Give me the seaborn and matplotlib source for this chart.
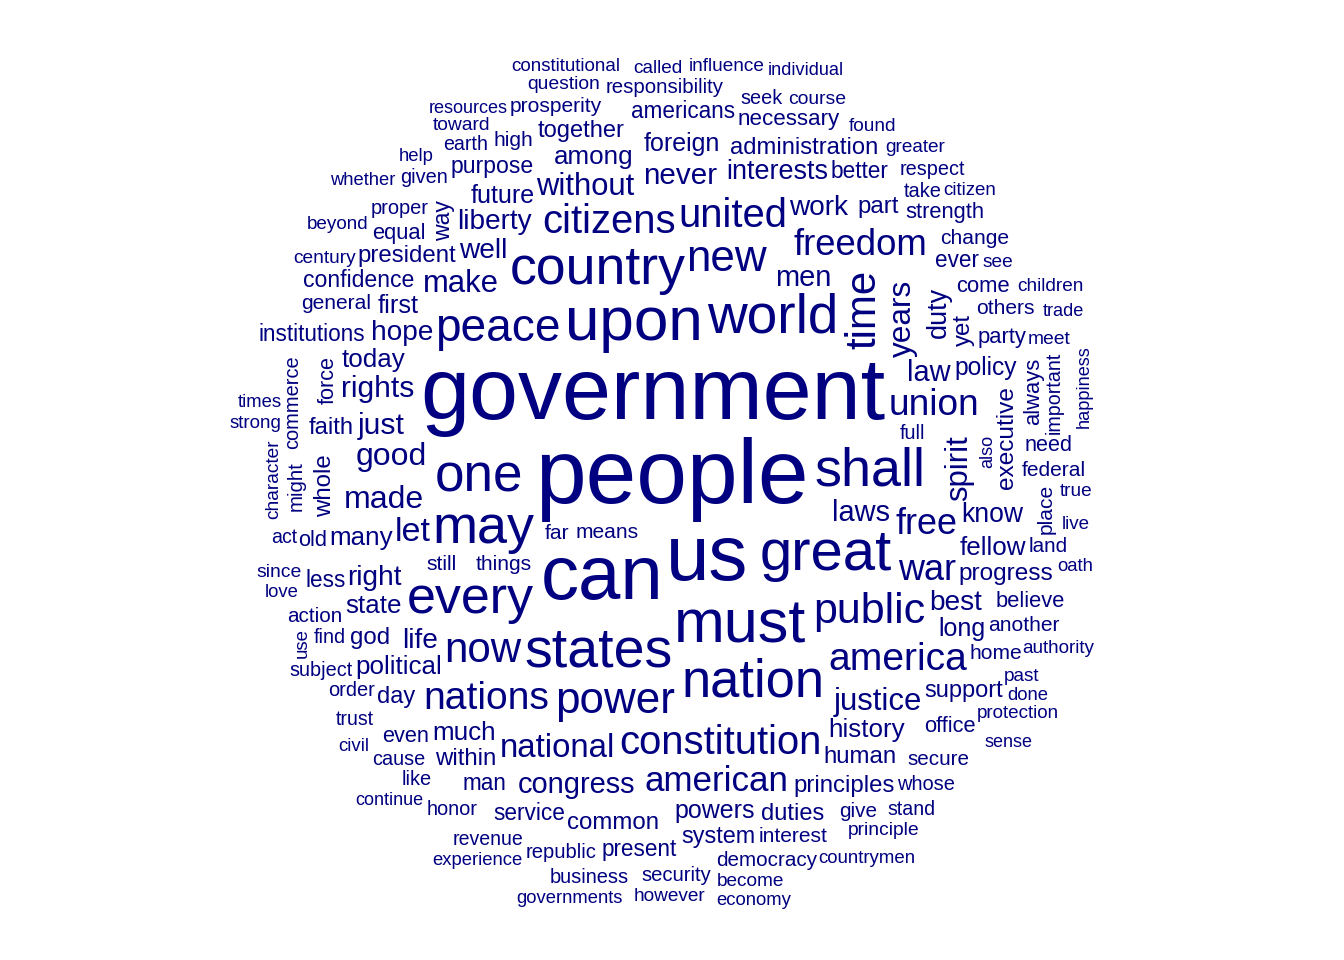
import numpy as np
import matplotlib
matplotlib.use("Agg")
import matplotlib.pyplot as plt
import seaborn as sns

# word frequencies
words = [
    "people", "government", "us", "can", "upon", "must", "great", "states", "world",
    "may", "shall", "country", "one", "nation", "every", "peace", "new", "power",
    "public", "now", "time", "citizens", "constitution", "united", "america", "nations",
    "union", "freedom", "free", "war", "american", "let", "national", "made", "good",
    "years", "make", "spirit", "justice", "without", "just", "rights", "never", "men",
    "congress", "laws", "law", "life", "well", "hope", "best", "liberty", "work", "right",
    "duty", "interests", "know", "history", "many", "among", "today", "political", "state",
    "fellow", "much", "first", "long", "future", "powers", "foreign", "policy", "progress",
    "executive", "human", "common", "president", "principles", "within", "god", "part",
    "whole", "yet", "administration", "faith", "together", "support", "duties", "day",
    "system", "purpose", "confidence", "way", "better", "service", "man", "ever",
    "americans", "present", "institutions", "less", "necessary", "equal", "come", "party",
    "always", "strength", "believe", "office", "even", "old", "force", "need", "still",
    "means", "others", "general", "high", "interest", "home", "prosperity", "change",
    "federal", "place", "far", "another", "things", "secure", "give", "democracy", "land",
    "action", "might", "responsibility", "security", "republic", "order", "find", "full",
    "proper", "take", "commerce", "honor", "business", "whose", "like", "given", "subject",
    "cause", "seek", "respect", "earth", "important", "stand", "revenue", "trust", "act",
    "since", "principle", "toward", "course", "meet", "question", "character", "century",
    "see", "become", "called", "found", "influence", "greater", "children", "past",
    "however", "true", "protection", "beyond", "authority", "constitutional", "live",
    "citizen", "strong", "countrymen", "use", "civil", "help", "oath", "economy", "love",
    "times", "experience", "done", "governments", "whether", "resources", "happiness",
    "individual", "trade", "continue", "also", "sense",
]
counts = [
    584, 562, 489, 474, 371, 364, 342, 324, 320,
    313, 313, 310, 305, 302, 298, 254, 239, 239,
    232, 225, 225, 210, 210, 210, 203, 203,
    188, 184, 181, 181, 173, 166, 159, 151, 151,
    148, 144, 144, 144, 144, 137, 137, 134, 129,
    129, 129, 129, 122, 122, 122, 122, 122, 122, 122,
    115, 115, 111, 107, 107, 107, 107, 107, 107,
    107, 107, 104, 100, 100, 100, 100, 97, 95,
    95, 93, 93, 93, 93, 93, 93, 93,
    93, 93, 91, 91, 90, 90, 90, 90,
    88, 85, 85, 85, 83, 83, 82, 82,
    82, 82, 82, 82, 81, 78, 78, 78,
    78, 77, 77, 77, 76, 76, 75, 75, 71,
    71, 71, 71, 71, 71, 71, 71, 71,
    71, 71, 71, 71, 71, 68, 68, 68, 68,
    68, 67, 66, 65, 65, 63, 63, 63,
    63, 63, 63, 63, 63, 63, 63, 63, 62,
    62, 62, 62, 61, 61, 60, 60, 60, 60,
    58, 58, 58, 58, 58, 58, 57, 57,
    57, 56, 56, 56, 56, 56, 56, 56,
    56, 56, 55, 55, 55, 54, 54,
    54, 54, 53, 53, 53, 52, 52, 52, 52,
    52, 52, 52, 51, 51, 50, 50,
    50, 50, 49, 49, 49,
]
vertical_words = [
    "whole", "always", "spirit", "force", "way", "years", "time", "duty", "yet",
    "executive", "might", "place", "character", "happiness", "commerce", "use",
    "also", "important",
]

sns.set_theme(style="white")
plt.rcParams["font.family"] = ["Liberation Sans", "DejaVu Sans"]
ink = sns.color_palette(["navy"])[0]

W, H = 1344, 960
fig = plt.figure(figsize=(W / 100, H / 100), dpi=100)
ax = fig.add_axes([0, 0, 1, 1])
ax.set_xlim(0, W)
ax.set_ylim(H, 0)
ax.axis("off")
renderer = fig.canvas.get_renderer()

# spiral layout, biggest words first (like R's wordcloud with random.order=FALSE)
side = H
left = (W - side) / 2
cx, cy = W / 2, H / 2
fmax = max(counts)
order = np.argsort(-np.array(counts), kind="stable")
golden = np.pi * (3 - np.sqrt(5))
tstep, rstep = 0.05, 0.02 * side
boxes = np.empty((0, 4))

for k, i in enumerate(order):
    word = words[i]
    em = 0.0237 * side * (0.5 + 3.5 * counts[i] / fmax)
    vertical = word in vertical_words
    t = ax.text(-2000, -2000, word, ha="center", va="center", fontsize=em * 0.72,
                color=ink, rotation=90 if vertical else 0)
    ext = t.get_window_extent(renderer)
    bw, bh = ext.width + 0.5, ext.height + 0.5

    theta = np.pi / 2 - golden + k * golden
    r = 0.0
    while r < side * 0.71:
        x = cx + r * np.cos(theta)
        y = cy + r * np.sin(theta)
        x0, y0, x1, y1 = x - bw / 2, y - bh / 2, x + bw / 2, y + bh / 2
        inside = x0 > left and y0 > 0 and x1 < left + side and y1 < H
        if inside:
            hit = (boxes[:, 0] < x1) & (boxes[:, 2] > x0) & (boxes[:, 1] < y1) & (boxes[:, 3] > y0)
            if not hit.any():
                boxes = np.vstack([boxes, [x0, y0, x1, y1]])
                t.set_position((x, y))
                break
        theta += tstep
        r += rstep * tstep / (2 * np.pi)

plt.savefig("out.png", dpi=100, facecolor="white")
plt.close()
